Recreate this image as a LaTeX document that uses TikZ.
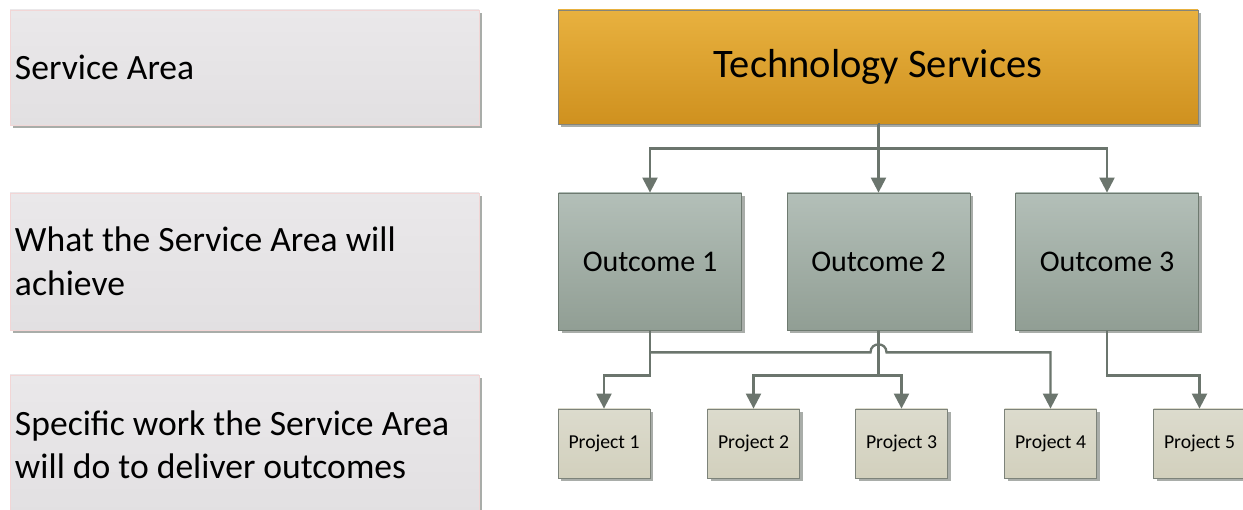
\documentclass[tikz,border=0pt]{standalone}
\usepackage{fontspec}
\setmainfont{Carlito}
\usetikzlibrary{arrows.meta,shadows,calc}
\definecolor{lbtop}{HTML}{EAE8EA}
\definecolor{lbbot}{HTML}{E2E0E2}
\definecolor{lbdraw}{HTML}{F2D6D6}
\definecolor{shdcol}{HTML}{A9ADA9}
\definecolor{tstop}{HTML}{E8B13F}
\definecolor{tsbot}{HTML}{CF911F}
\definecolor{tsdraw}{HTML}{85857A}
\definecolor{octop}{HTML}{B3BFB8}
\definecolor{ocbot}{HTML}{919E94}
\definecolor{ocdraw}{HTML}{6E7A70}
\definecolor{prtop}{HTML}{DCDBCD}
\definecolor{prbot}{HTML}{D2D0BD}
\definecolor{prdraw}{HTML}{7D837A}
\definecolor{connclr}{HTML}{6B756D}
\tikzset{
  shadowed/.style={drop shadow={shadow xshift=3pt,shadow yshift=-3pt,fill=shdcol,opacity=1}},
  leftbox/.style={shadowed,draw=lbdraw,line width=0.6pt,top color=lbtop,bottom color=lbbot,
    minimum width=469pt,text width=459pt,inner xsep=5pt,align=flush left,
    font=\fontsize{35.6}{43.5}\selectfont},
  topbox/.style={shadowed,draw=tsdraw,line width=0.8pt,top color=tstop,bottom color=tsbot,
    minimum width=640pt,minimum height=114pt,font=\fontsize{40.5}{48}\selectfont},
  outbox/.style={shadowed,draw=ocdraw,line width=0.8pt,top color=octop,bottom color=ocbot,
    minimum width=183pt,minimum height=137pt,font=\fontsize{30}{36}\selectfont},
  projbox/.style={shadowed,draw=prdraw,line width=0.8pt,top color=prtop,bottom color=prbot,
    minimum width=92pt,minimum height=69pt,inner sep=0pt,font=\fontsize{19.7}{24}\selectfont},
  connline/.style={draw=connclr,line width=2.3pt},
  connarrow/.style={connline,-{Triangle[width=15pt,length=15pt]}}
}
\begin{document}
\begin{tikzpicture}[x=1pt,y=-1pt]
\useasboundingbox (0,0) rectangle (1243,510);
\fill[white] (0,0) rectangle (1243,510);
% left description boxes
\node[leftbox,minimum height=115pt] (l1) at (244.5,67.5) {Service Area};
\node[leftbox,minimum height=137pt] (l2) at (244.5,261.5) {What the Service Area will\\achieve};
\node[leftbox,minimum height=140pt] (l3) at (244.5,445) {Specific work the Service Area\\will do to deliver outcomes};
% hierarchy
\node[topbox] (ts) at (878,67) {\raisebox{-3pt}{Technology Services}};
\node[outbox] (o1) at (650,261.5) {Outcome 1};
\node[outbox] (o2) at (878.5,261.5) {Outcome 2};
\node[outbox] (o3) at (1107,261.5) {Outcome 3};
\node[projbox] (p1) at (604,443.5) {Project 1};
\node[projbox] (p2) at (753.5,443.5) {Project 2};
\node[projbox] (p3) at (901.5,443.5) {Project 3};
\node[projbox] (p4) at (1050.5,443.5) {Project 4};
\node[projbox] (p5) at (1199.5,443.5) {Project 5};
% connectors from top
\coordinate (j1) at ($(ts.south)+(0,24)$);
\draw[connarrow] (ts.south) -- (o2.north |- ts.south) -- (o2.north);
\draw[connarrow] (j1) -| (o1.north);
\draw[connarrow] (j1) -| (o3.north);
% outcome 1
\coordinate (b1) at ($(o1.south)+(0,22)$);
\coordinate (b2) at ($(o1.south)+(0,45)$);
\coordinate (jl) at ($(o2.south |- b1)+(-8,0)$);
\coordinate (jr) at ($(o2.south |- b1)+(8,0)$);
\draw[connarrow] (o1.south) -- (b2) -| (p1.north);
\draw[connarrow] (b1) -- (jl) .. controls ($(jl)+(0,-10.7)$) and ($(jr)+(0,-10.7)$) .. (jr) -| (p4.north);
% outcome 2
\coordinate (c2) at ($(o2.south)+(0,45)$);
\draw[connarrow] (o2.south) -- (c2) -| (p2.north);
\draw[connarrow] (c2) -| (p3.north);
% outcome 3
\coordinate (d2) at ($(o3.south)+(0,45)$);
\draw[connarrow] (o3.south) -- (d2) -| (p5.north);
\end{tikzpicture}
\end{document}
